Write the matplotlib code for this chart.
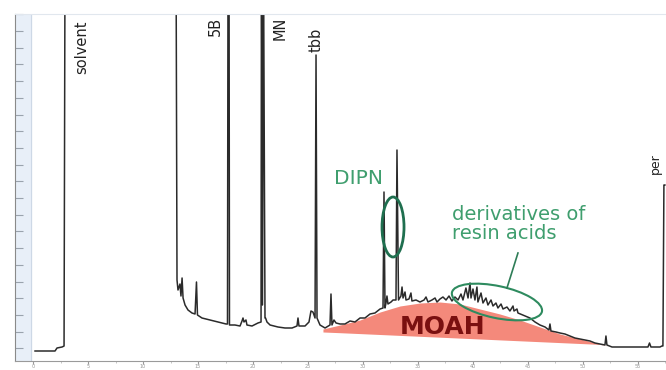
import matplotlib
matplotlib.use("Agg")
import matplotlib.pyplot as plt
from matplotlib.patches import Ellipse
from matplotlib.transforms import Affine2D, ScaledTranslation
from matplotlib.ticker import MultipleLocator

# ---------------- data (retention time in min, detector signal) ----------------
trace_t = [0.18, 2.00, 2.18, 2.64, 2.82, 2.91, 13.00, 13.09, 13.18, 13.36, 13.45, 13.55,
           13.64, 13.82, 14.09, 14.45, 14.73, 14.86, 14.95, 15.36, 16.09, 16.82, 17.55,
           17.68, 17.73, 17.82, 17.86, 18.36, 18.82, 19.00, 19.09, 19.18, 19.36, 19.45,
           19.91, 20.45, 20.73, 20.77, 20.86, 20.95, 21.09, 21.14, 21.27, 21.55, 22.27,
           22.91, 23.55, 24.00, 24.09, 24.18, 24.73, 25.09, 25.27, 25.45, 25.64, 25.73,
           25.82, 26.09, 26.55, 27.00, 27.09, 27.18, 27.36, 27.55, 27.91, 28.36, 28.82,
           29.27, 29.73, 30.18, 30.64, 31.09, 31.55, 31.82, 31.91, 32.00, 32.09, 32.18,
           32.27, 32.55, 32.73, 33.00, 33.09, 33.23, 33.45, 33.55, 33.64, 33.82, 33.91,
           34.18, 34.36, 34.45, 34.82, 35.18, 35.55, 35.73, 35.91, 36.27, 36.55, 36.73,
           37.00, 37.27, 37.55, 37.82, 38.09, 38.36, 38.64, 38.91, 39.09, 39.36, 39.55,
           39.73, 39.82, 40.00, 40.18, 40.36, 40.45, 40.73, 40.91, 41.18, 41.36, 41.64,
           41.82, 42.09, 42.27, 42.55, 42.73, 43.09, 43.36, 43.64, 43.73, 44.00, 44.09,
           44.73, 45.18, 45.64, 46.09, 46.55, 46.91, 47.00, 47.09, 47.55, 47.91, 48.36,
           48.82, 49.27, 49.73, 50.18, 50.64, 51.09, 51.55, 52.00, 52.09, 52.18, 52.64,
           53.36, 54.27, 55.18, 55.91, 56.05, 56.18, 57.00, 57.18, 57.27, 57.36, 57.45]
trace_y = [14, 14, 17, 18, 19, 420, 420, 85, 75, 81, 69, 87,
           67, 60, 55, 52, 51, 83, 50, 47, 45, 43, 41,
           41, 420, 420, 40, 40, 39, 44, 47, 43, 45, 40,
           39, 42, 43, 420, 60, 420, 47, 47, 43, 40, 38,
           37, 37, 39, 47, 39, 39, 43, 54, 53, 47, 310,
           47, 40, 37, 40, 71, 40, 45, 42, 41, 41, 44,
           43, 47, 47, 51, 52, 56, 57, 173, 57, 62, 69,
           61, 63, 65, 65, 215, 65, 69, 78, 67, 73, 65,
           66, 72, 64, 65, 63, 65, 68, 63, 65, 67, 63,
           66, 68, 65, 69, 64, 68, 65, 71, 65, 77, 67,
           82, 67, 76, 65, 78, 63, 72, 62, 67, 60, 65,
           59, 62, 57, 61, 56, 58, 54, 59, 54, 56, 52,
           49, 47, 43, 40, 38, 35, 41, 34, 33, 32, 31,
           29, 27, 26, 25, 24, 22, 21, 20, 29, 20, 18,
           18, 18, 18, 18, 22, 18, 18, 19, 19, 180, 180]

# MOAH hump (unresolved complex mixture)
moah_t = [26.36, 27.91, 29.73, 31.55, 33.36, 35.18, 37.00, 38.82, 40.64, 42.45,
          44.27, 46.09, 47.91, 49.73, 51.55, 52.27]
moah_top = [36, 40, 45, 53, 59, 62, 63, 61, 56, 51, 45, 38, 31, 26, 21, 19]
moah_base = [33, 32.3, 31.4, 30.5, 29.6, 28.7, 27.8, 26.9, 26.0, 25.1,
             24.2, 23.3, 22.4, 21.5, 20.6, 19]

peak_labels = ["solvent", "5B", "MN", "tbb", "per"]
peak_label_t = [4.41, 16.55, 22.5, 25.73, 56.55]
peak_label_y = [345, 348, 348, 337, 212]

x_ticks = [0, 5, 10, 15, 20, 25, 30, 35, 40, 45, 50, 55]

# ---------------- figure ----------------
fig = plt.figure(figsize=(6.66, 3.70), dpi=100)
ax = fig.add_axes([15 / 666, 9 / 370, 651 / 666, 347 / 370])
ax.set_xlim(-1.64, 57.55)
ax.set_ylim(4, 351)

# light blue scale band at the left
ax.axvspan(-1.64, -0.18, color="#e8eff8", zorder=0)
ax.axvline(-0.18, color="#cdd8e6", lw=0.8, zorder=0)

ax.fill_between(moah_t, moah_base, moah_top, color="#f4897b", lw=0, zorder=1)
ax.plot(trace_t, trace_y, color="#2b2b2b", lw=1.1, zorder=2)

for lab, t, y in zip(peak_labels, peak_label_t, peak_label_y):
    ax.text(t, y, lab, rotation=90, ha="center", va="top",
            fontsize=9 if lab == "per" else 10.5, color="#222222",
            family="DejaVu Sans")

green = "#3f9e6e"
dark_green = "#1f6f4f"
ax.text(29.55, 187, "DIPN", ha="center", va="center", fontsize=14.5, color=green)
ax.text(38.09, 160, "derivatives of\nresin acids", ha="left", va="top",
        fontsize=14, color=green, linespacing=1.0)
ax.text(37.27, 38, "MOAH", ha="center", va="center", fontsize=18,
        fontweight="bold", color="#7a1010", zorder=3)


def px_ellipse(cx, cy, w, h, ang, **kw):
    tr = (Affine2D().scale(1 / 100) + fig.dpi_scale_trans
          + ScaledTranslation(cx, cy, ax.transData))
    e = Ellipse((0, 0), w, h, angle=ang, transform=tr, fill=False, **kw)
    ax.add_patch(e)


px_ellipse(32.73, 138, 22, 60, 0, edgecolor=dark_green, lw=2.0, zorder=4)
px_ellipse(42.18, 63, 92, 32, -12, edgecolor="#2e8b5f", lw=1.5, zorder=4)
ax.plot([43.09, 44.09], [77, 112], color="#2e7d57", lw=1.2, zorder=4)

# axes styling
ax.spines["right"].set_visible(False)
ax.spines["top"].set_color("#e1e7ee")
ax.spines["left"].set_color("#8a8a8a")
ax.spines["bottom"].set_color("#9a9a9a")
ax.set_xticks(x_ticks)
ax.set_xticklabels([str(v) for v in x_ticks])
ax.xaxis.set_minor_locator(MultipleLocator(2.5))
ax.tick_params(axis="x", which="major", length=2, color="#999999",
               labelsize=3.5, labelcolor="#999999", pad=0.3)
ax.tick_params(axis="x", which="minor", length=1.2, color="#bbbbbb")
ax.yaxis.set_major_locator(MultipleLocator(16.7))
ax.tick_params(axis="y", direction="in", length=6, color="#9aa3ad",
               width=0.8, labelleft=False)

fig.savefig("out.png", dpi=100)
